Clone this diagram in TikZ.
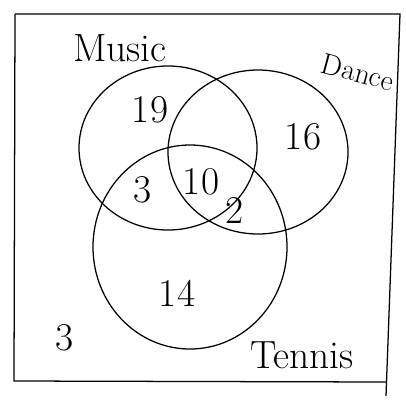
\documentclass[tikz,border=0pt]{standalone}
\usepackage{tikz}
\usetikzlibrary{positioning}

\begin{document}
\begin{tikzpicture}[x=0.025cm, y=-0.025cm, line width=0.9pt, num/.style={font=\fontsize{28}{30}\selectfont}, lab/.style={font=\fontsize{28}{30}\selectfont}]
\useasboundingbox (0,0) rectangle (406,402);
\draw (15,14) -- (400,14) -- (386,396);
\draw (15,14) -- (14,381) -- (386,382);
\draw (168,148) ellipse [x radius=89, y radius=82];
\draw (258,152) ellipse [x radius=90, y radius=82];
\draw (190,247) ellipse [x radius=97, y radius=102];
\node[lab] (music) at (120,48) {Music};
\node[lab, font=\fontsize{21}{24}\selectfont, rotate=-15] (dance) at (358,72) {Dance};
\node[lab] (tennis) at (302,355) {Tennis};
\node[num] (onlym) at (150,110) {19};
\node[num] (onlyd) at (303,137) {16};
\node[num] (mt) at (143,190) {3};
\node[num] (mdt) at (201,182) {10};
\node[num] (dt) at (235,210) {2};
\node[num] (onlyt) at (177,293) {14};
\node[num] (none) at (65,338) {3};
\end{tikzpicture}
\end{document}
